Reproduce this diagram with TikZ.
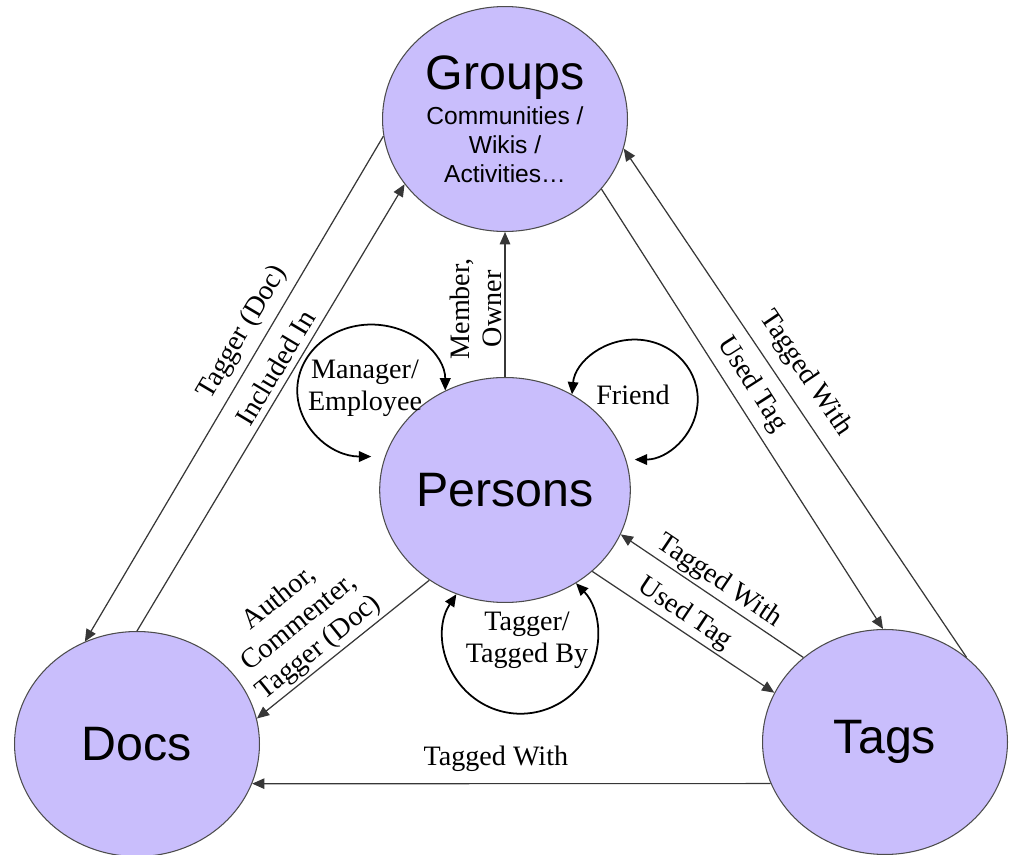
\documentclass[tikz,border=0pt]{standalone}
\usepackage{fontspec}
\setmainfont{Liberation Serif}
\setsansfont{Liberation Sans}
\usetikzlibrary{positioning,shapes.geometric,arrows.meta}

\definecolor{entfill}{RGB}{201,190,252}
\definecolor{linegray}{RGB}{55,55,55}

\begin{document}
\begin{tikzpicture}[x=0.02cm, y=0.02cm,
		ent/.style={ellipse, draw=black!70, line width=0.6pt, fill=entfill, minimum width=4.9cm, minimum height=4.5cm, inner sep=0pt, align=center, font=\sffamily\fontsize{27.5}{30}\selectfont},
		rel/.style={-{Triangle[length=7pt, width=6pt]}, line width=0.7pt, every edge/.style={draw=linegray}},
		lbl/.style={font=\fontsize{16}{18}\selectfont, align=center, inner sep=1.5pt, sloped},
		looplbl/.style={font=\fontsize{16}{18}\selectfont, align=center},
		twoway/.style={{Triangle[length=7pt, width=6pt]}-{Triangle[length=7pt, width=6pt]}, line width=1pt}]
		\useasboundingbox (0,0) rectangle (1011,855);

		\node [ent] (P) at (505,365) {Persons};
		\node [ent, above=2.9cm of P, font=\sffamily\fontsize{14}{16.5}\selectfont] (G) {{\fontsize{27.5}{30}\selectfont Groups}\\[3.5pt]Communities /\\Wikis /\\Activities\ldots};
		\node [ent] (D) at (137,111) {Docs};
		\node [ent] (T) at (885,113) {Tags};

		\path[rel] (G.188) edge node [lbl, pos=0.41, above=3pt] {Tagger (Doc)} (D.117);
		\path[rel] (D.90)  edge node [lbl, pos=0.57, above=2pt] {Included In} (G.213);
		\path[rel] (P.90)  edge node [lbl, pos=0.47, above] {Member,\\Owner} (G.270);
		\path[rel] (G.324) edge node [lbl, pos=0.47, above=3pt] {Used Tag} (T.91);
		\path[rel] (T.46)  edge node [lbl, pos=0.53, above=5pt] {Tagged With} (G.346);
		\path[rel] (P.230) edge node [lbl, pos=0.58, above] {Author,\\Commenter,\\Tagger (Doc)} (D.12);
		\path[rel] (T.134) edge node [lbl, pos=0.51, above] {Tagged With} (P.-21);
		\path[rel] (P.-43) edge node [lbl, pos=0.46, above] {Used Tag} (T.156);
		\path[rel] (T.200) edge node [lbl, pos=0.53, above=5pt] {Tagged With} (D.-19);

		% self relations
		\draw[twoway] (P.121) arc[start angle=0, end angle=270, x radius=74, y radius=66];
		\draw[twoway] (P.55) arc[start angle=175, end angle=-90, x radius=63, y radius=60];
		\draw[twoway] (P.245) arc[start angle=146.5, end angle=404, radius=77];
		\node [looplbl] (mgr) at (365,467) {Manager/\\Employee};
		\node [looplbl] (frd) at (633,460) {Friend};
		\node [looplbl] (tgr) at (527,215) {Tagger/\\Tagged By};
	\end{tikzpicture}
\end{document}
